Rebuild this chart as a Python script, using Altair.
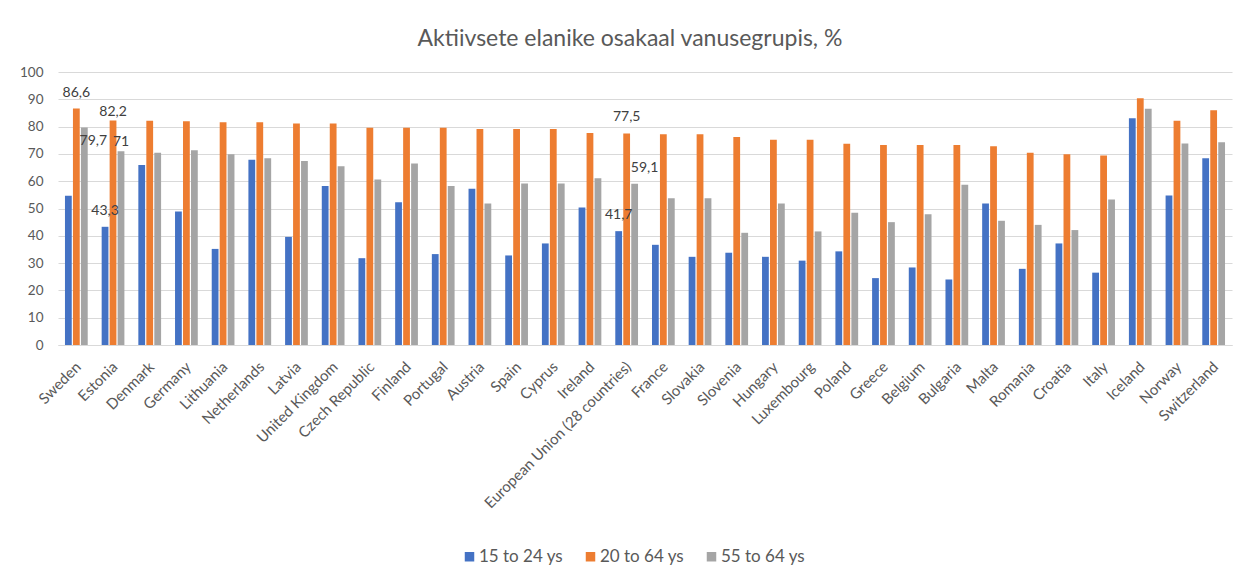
import altair as alt
import pandas as pd

countries = [
    "Sweden", "Estonia", "Denmark", "Germany", "Lithuania", "Netherlands", "Latvia",
    "United Kingdom", "Czech Republic", "Finland", "Portugal", "Austria", "Spain",
    "Cyprus", "Ireland", "European Union (28 countries)", "France", "Slovakia",
    "Slovenia", "Hungary", "Luxembourg", "Poland", "Greece", "Belgium", "Bulgaria",
    "Malta", "Romania", "Croatia", "Italy", "Iceland", "Norway", "Switzerland",
]

age_15_24 = [54.7, 43.3, 65.9, 48.9, 35.2, 67.9, 39.6, 58.2, 31.8, 52.3, 33.3, 57.2,
             32.8, 37.2, 50.4, 41.7, 36.7, 32.3, 33.8, 32.3, 30.9, 34.3, 24.5, 28.4,
             24.0, 51.8, 27.9, 37.2, 26.5, 83.1, 54.8, 68.4]
age_20_64 = [86.6, 82.2, 82.1, 82.0, 81.6, 81.6, 81.1, 81.1, 79.6, 79.6, 79.6, 79.1,
             79.1, 79.1, 77.7, 77.5, 77.2, 77.2, 76.2, 75.2, 75.2, 73.7, 73.3, 73.3,
             73.3, 72.8, 70.4, 69.9, 69.4, 90.4, 82.1, 86.0]
age_55_64 = [79.7, 71.0, 70.4, 71.3, 69.9, 68.4, 67.4, 65.5, 60.6, 66.5, 58.2, 51.8,
             59.2, 59.2, 61.1, 59.1, 53.8, 53.8, 41.1, 51.8, 41.6, 48.4, 45.0, 47.9,
             58.7, 45.5, 44.0, 42.1, 53.3, 86.5, 73.8, 74.3]

series_names = ["15 to 24 ys", "20 to 64 ys", "55 to 64 ys"]
series_colors = ["#4472C4", "#ED7D31", "#A5A5A5"]
y_ticks = [0, 10, 20, 30, 40, 50, 60, 70, 80, 90, 100]
title_text = "Aktiivsete elanike osakaal vanusegrupis, %"

# data labels shown in the chart: (country, series)
labelled_default = [("Sweden", "20 to 64 ys"), ("Estonia", "15 to 24 ys"),
                    ("European Union (28 countries)", "20 to 64 ys"),
                    ("European Union (28 countries)", "15 to 24 ys")]
labelled_close = [("Estonia", "20 to 64 ys"), ("Estonia", "55 to 64 ys")]
labelled_below = [("Sweden", "55 to 64 ys")]
labelled_right = [("European Union (28 countries)", "55 to 64 ys")]


def fmt(v):
    s = f"{v:.1f}".replace(".", ",")
    return s[:-2] if s.endswith(",0") else s


rows = []
for i, c in enumerate(countries):
    for name, vals in zip(series_names, [age_15_24, age_20_64, age_55_64]):
        rows.append({"country": c, "series": name, "value": vals[i],
                     "label": fmt(vals[i])})
df = pd.DataFrame(rows)

FONT = "Lato"
GREY_TXT = "#595959"
GRID = "#d9d9d9"

x_enc = alt.X("country:N", sort=countries,
              scale=alt.Scale(paddingInner=0.38, paddingOuter=0.19),
              axis=alt.Axis(title=None, labelAngle=-45, labelAlign="right",
                            labelBaseline="top", ticks=False, domainColor=GRID,
                            labelFont=FONT, labelFontSize=15, labelColor=GREY_TXT,
                            labelPadding=14, labelOffset=-3, labelOverlap=False,
                            labelLimit=400))
xo_enc = alt.XOffset("series:N", sort=series_names, scale=alt.Scale(paddingInner=0.15))
y_enc = alt.Y("value:Q", scale=alt.Scale(domain=[0, 100]),
              axis=alt.Axis(title=None, values=y_ticks, domain=False, ticks=False,
                            gridColor=GRID, labelFont=FONT, labelFontSize=13.5,
                            labelColor=GREY_TXT, labelPadding=15))

base = alt.Chart(df)

bars = base.mark_bar().encode(
    x=x_enc, xOffset=xo_enc, y=y_enc,
    color=alt.Color("series:N", sort=series_names,
                    scale=alt.Scale(domain=series_names, range=series_colors),
                    legend=alt.Legend(title=None, orient="none", legendX=403,
                                      legendY=476, direction="horizontal",
                                      symbolType="square", symbolSize=90,
                                      symbolStrokeWidth=0, labelFont=FONT,
                                      labelFontSize=17, labelColor=GREY_TXT,
                                      columnPadding=18, labelOffset=1)),
)


def label_layer(pairs, dx, dy):
    expr = " || ".join(
        f"(datum.country == '{c}' && datum.series == '{s}')" for c, s in pairs)
    return base.transform_filter(expr).mark_text(
        font=FONT, fontSize=14, color="#404040", baseline="middle",
        dx=dx, dy=dy).encode(x=x_enc, xOffset=xo_enc, y=y_enc, text="label:N")


frame = alt.Chart(alt.Data(values=[{}]))
left_line = frame.mark_rule(color=GRID, strokeWidth=1).encode(
    x=alt.value(-51), y=alt.value(-65), y2=alt.value(520))
top_line = frame.mark_rule(color=GRID, strokeWidth=1).encode(
    x=alt.value(-51), x2=alt.value(1200), y=alt.value(-65))

chart = alt.layer(
    left_line, top_line, bars,
    label_layer(labelled_default, 0, -16),
    label_layer(labelled_close, 0, -9),
    label_layer(labelled_below, 9, 14),
    label_layer(labelled_right, 10, -16),
).properties(
    width=1174, height=273,
    padding={"left": 50, "top": 64, "right": 4, "bottom": 220},
    autosize=alt.AutoSizeParams(type="none"),
    title=alt.TitleParams(title_text, font=FONT, fontSize=23, fontWeight="normal",
                          color=GREY_TXT, anchor="middle", frame="group", dx=-15,
                          offset=-44),
).configure_view(stroke=None)

chart.save("out.html", embed_options={"renderer": "svg", "actions": False})
